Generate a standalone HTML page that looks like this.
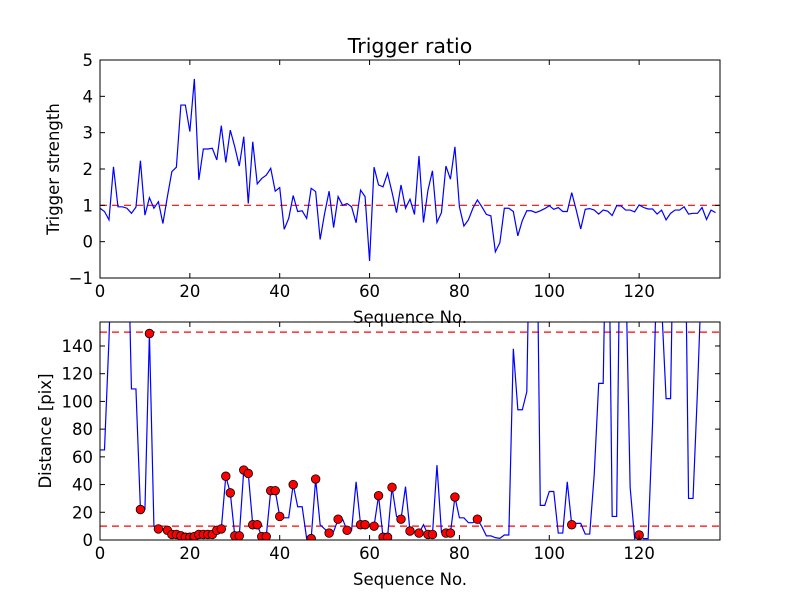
<!DOCTYPE html>
<html><head><meta charset="utf-8"><style>
body{margin:0;background:#fff}
svg text{font-family:"DejaVu Sans","Liberation Sans",sans-serif;fill:#000}
</style></head><body>
<svg id="fig" width="800" height="600" viewBox="0 0 800 600" xmlns="http://www.w3.org/2000/svg">
<rect width="800" height="600" fill="#fff"/>
</svg>
<script>
const ratioValues=[0.92,0.83,0.6,2.06,0.96,0.96,0.92,0.78,0.95,2.23,0.73,1.21,0.92,1.1,0.5,1.24,1.93,2.05,3.76,3.76,3.03,4.48,1.7,2.55,2.55,2.57,2.25,3.19,2.18,3.07,2.61,2.08,2.89,1.05,2.75,1.59,1.74,1.83,2.02,1.39,1.49,0.34,0.64,1.27,0.83,0.85,0.64,1.47,1.38,0.06,0.78,1.39,0.39,1.24,1.0,1.05,0.96,0.52,1.42,1.24,-0.53,2.05,1.56,1.51,1.88,1.36,0.8,1.56,0.92,1.17,0.75,2.36,0.53,1.42,1.95,0.53,0.8,2.08,1.72,2.61,0.96,0.43,0.6,0.92,1.15,0.96,0.75,0.71,-0.28,-0.03,0.92,0.92,0.83,0.16,0.58,0.85,0.85,0.8,0.85,0.91,0.99,0.89,0.94,0.83,0.83,1.35,0.87,0.35,0.89,0.91,0.87,0.76,0.87,0.84,0.72,0.99,0.98,0.87,0.87,0.82,1.01,0.94,0.9,0.9,0.76,0.87,0.6,0.78,0.87,0.87,0.96,0.76,0.78,0.78,0.94,0.61,0.87,0.8];
const distValues=[65,65,145,250,250,250,250,109,109,22,22,149,10,8,8,7,4,4,3,2,2,2.5,4,4,4,4,7,8,46,34,3,3,50.5,48,11,11,2.5,2.5,35.6,35.6,17,16,16,40,24,24,1,1,44,11,8,5,6,15,15,7,7,42,11,11,11,10,32,2,2,38,17,15,38.5,6.5,6,5,11,4,4,54,5.5,5,5,31,16,16,12.5,12.5,15,9.6,3,3,1.7,1.2,3.6,3.6,138,94,94,107,300,300,25,25,35,35,5,5,42,11,12,12,4.3,4.3,47,113,113,300,17,17,300,200,38,1,3.6,1,1,85,200,170,102,102,300,300,300,30,30,109,200,200,200,200];
const markerIdx=[9,11,13,15,16,17,18,19,20,21,22,23,24,25,26,27,28,29,30,31,32,33,34,35,36,37,38,39,40,43,47,48,51,53,55,58,59,61,62,63,64,65,67,69,71,73,74,77,78,79,84,105,120];
const xTicks=[0,20,40,60,80,100,120];
const topYTicks=[-1,0,1,2,3,4,5];
const botYTicks=[0,20,40,60,80,100,120,140];
const topThresholds=[1];
const botThresholds=[10,150];

const NS="http://www.w3.org/2000/svg";
const svg=document.getElementById('fig');
function mk(tag,attrs,parent){const e=document.createElementNS(NS,tag);for(const k in attrs)e.setAttribute(k,attrs[k]);(parent||svg).appendChild(e);return e;}
const X0=100,X1=720,XMAX=138;
function sx(v){return X0+(v/XMAX)*(X1-X0);}
function makeY(top,bot,min,max){return v=>bot-(v-min)/(max-min)*(bot-top);}

function panel(name,top,bot,ymin,ymax,yTicks,yLabel){
  const sy=makeY(top,bot,ymin,ymax);
  const g=mk('g',{});
  
  
  const cid='clip-'+name;
  const cp=mk('clipPath',{id:cid},g);mk('rect',{x:X0,y:top,width:X1-X0,height:bot-top},cp);
  return {sy,g,cid,top,bot,yTicks,yLabel};
}
function frame(p){
  const {g,sy,top,bot}=p;
  const r=mk('rect',{x:X0,y:top,width:X1-X0,height:bot-top,fill:'none',stroke:'#000','stroke-width':1},g);
  
  
  xTicks.forEach(t=>{
    const x=sx(t);
    mk('line',{x1:x,y1:bot,x2:x,y2:bot-5,stroke:'#000'},g);
    mk('line',{x1:x,y1:top,x2:x,y2:top+5,stroke:'#000'},g);
    const tx=mk('text',{x:x,y:bot+19,'text-anchor':'middle','font-size':16.5},g);tx.textContent=t;
    
    
  });
  p.yTicks.forEach(t=>{
    const y=sy(t);
    mk('line',{x1:X0,y1:y,x2:X0+5,y2:y,stroke:'#000'},g);
    mk('line',{x1:X1,y1:y,x2:X1-5,y2:y,stroke:'#000'},g);
    const ty=mk('text',{x:X0-7,y:y+6,'text-anchor':'end','font-size':16.5},g);ty.textContent=t<0?'\u2212'+String(-t):t;
    
    
  });
  const xl=mk('text',{x:410,y:bot+45,'text-anchor':'middle','font-size':16.5},g);xl.textContent='Sequence No.';
  
  
  const yc=(top+bot)/2;
  const lx=p.yLabel.x;
  const yl=mk('text',{x:lx,y:yc,'text-anchor':'middle','font-size':16.5,transform:`rotate(-90 ${lx} ${yc})`},g);yl.textContent=p.yLabel.t;
  
  
}
function series(p,vals,name){
  const pts=vals.map((v,i)=>sx(i).toFixed(2)+','+p.sy(v).toFixed(2)).join(' ');
  const pl=mk('polyline',{points:pts,fill:'none',stroke:'#0000ff','stroke-width':1.2,'clip-path':`url(#${p.cid})`},p.g);
  
  
}
function thresh(p,vals){
  vals.forEach(v=>{
    const l=mk('line',{x1:X0,x2:X1,y1:p.sy(v),y2:p.sy(v),stroke:'#ff0000','stroke-width':1.2,'stroke-dasharray':'7,5'},p.g);
    
    
  });
}

const P1=panel('trigger-ratio-panel',60,278,-1,5,topYTicks,{x:59,t:'Trigger strength'});
thresh(P1,topThresholds);
series(P1,ratioValues,'trigger-strength-line');
frame(P1);
const tt=mk('text',{x:410,y:53,'text-anchor':'middle','font-size':20.5});tt.textContent='Trigger ratio';



const P2=panel('distance-panel',322,540,0,157.3,botYTicks,{x:51,t:'Distance [pix]'});
thresh(P2,botThresholds);
series(P2,distValues,'distance-line');
markerIdx.forEach(i=>{
  const c=mk('circle',{cx:sx(i),cy:P2.sy(distValues[i]),r:4.3,fill:'#ff0000',stroke:'#000','stroke-width':0.8,'clip-path':`url(#${P2.cid})`},P2.g);
  
  
});
frame(P2);
</script>
</body></html>
